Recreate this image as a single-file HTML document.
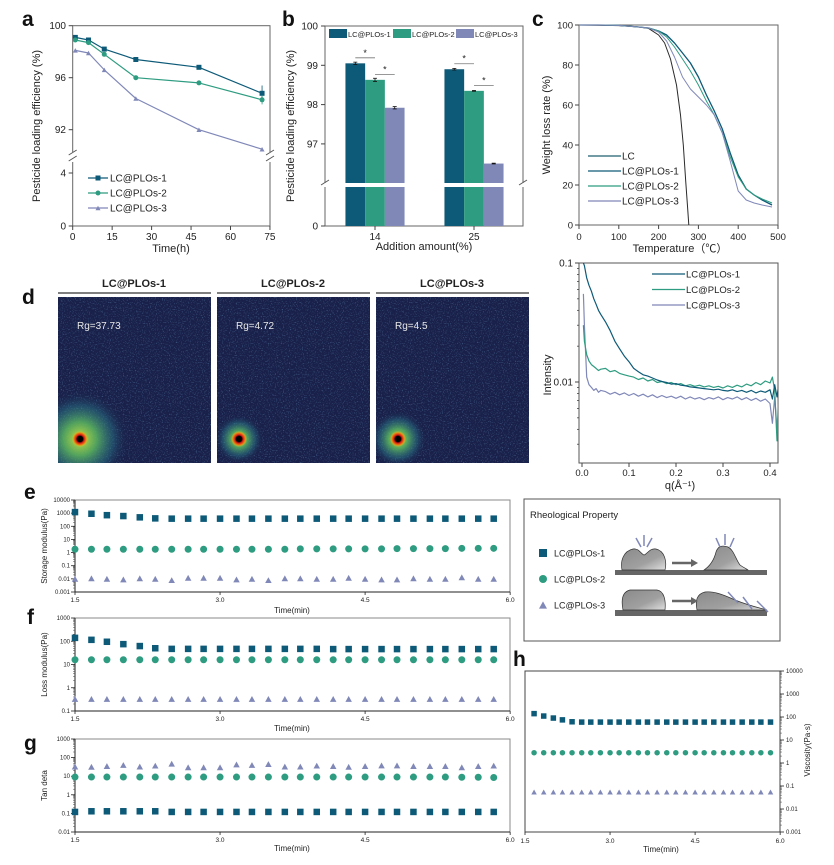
<!DOCTYPE html>
<html><head><meta charset="utf-8">
<style>
html,body{margin:0;padding:0;background:#fff;}
svg{display:block;font-family:"Liberation Sans",sans-serif;}
</style></head>
<body>
<svg id="fig" width="834" height="865" viewBox="0 0 834 865" xmlns="http://www.w3.org/2000/svg">
<defs>
<filter id="speck" x="0" y="0" width="100%" height="100%">
<feTurbulence type="fractalNoise" baseFrequency="0.85" numOctaves="1" seed="3" result="n"/>
<feColorMatrix in="n" type="matrix" values="0 0 0 0 0.2  0 0 0 0 0.42  0 0 0 0 0.7  0 0 0 2.2 -1.2"/>
</filter>
<radialGradient id="glow1"><stop offset="0" stop-color="#c8e040" stop-opacity="1"/><stop offset="0.35" stop-color="#5cb860" stop-opacity="0.85"/><stop offset="0.7" stop-color="#2a7a8a" stop-opacity="0.45"/><stop offset="1" stop-color="#1b2550" stop-opacity="0"/></radialGradient>
<radialGradient id="spot"><stop offset="0" stop-color="#000"/><stop offset="0.35" stop-color="#000"/><stop offset="0.5" stop-color="#d01818"/><stop offset="0.75" stop-color="#f07a10"/><stop offset="1" stop-color="#e8d020" stop-opacity="0"/></radialGradient>
<linearGradient id="blob" x1="0" y1="0" x2="1" y2="1"><stop offset="0" stop-color="#8a8a8a"/><stop offset="0.6" stop-color="#a0a0a0"/><stop offset="1" stop-color="#e0e0e0"/></linearGradient>
<clipPath id="clipS"><rect x="579" y="263" width="199" height="200"/></clipPath>
</defs>
<g id="root"></g>
</svg>
<script>
// ---------- DATA ----------
const aTime=[1,6,12,24,48,72];
const aLC1=[99.1,98.9,98.2,97.4,96.8,94.8];
const aLC2=[98.9,98.7,97.8,96.0,95.6,94.3];
const aLC3=[98.1,97.9,96.6,94.4,92.0,90.5];
const aErr1=[0.08,0.08,0.08,0.08,0.08,0.6];
const aErr2=[0.08,0.08,0.08,0.08,0.08,0.35];
const aXTicks=[0,15,30,45,60,75];
const aYTicksUp=[92,96,100];
const aYTicksLow=[0,4];

const bGroups=['14','25'];
const bLC1=[99.05,98.9];
const bLC2=[98.63,98.35];
const bLC3=[97.92,96.5];
const bErr1=[0.03,0.02];
const bErr2=[0.04,0.01];
const bErr3=[0.03,0.01];
const bYTicks=[97,98,99,100];

const cTempLC=[0,50,100,150,175,200,215,230,245,255,262,268,273,276];
const cLC=[100,99.9,99.7,99,98.3,95,91,83,70,55,40,22,8,0];
const cTemp=[0,50,100,150,175,200,220,240,260,280,300,320,340,360,380,400,420,440,460,485];
const cLC1=[100,100,99.8,99,98.5,97,95,91,86,81,74,65,57,48,36,25,18,15,12.5,10];
const cLC2=[100,100,99.8,99,98.5,97,94,89,83,77,70,62,55,46,34,24,18,15,13,11];
const cLC3=[100,100,99.8,99,98.5,96.5,92,84,74,68,64,60,55,46,32,17,12.5,11,10,9];
const cXTicks=[0,100,200,300,400,500];
const cYTicks=[0,20,40,60,80,100];

const sQ=[0.003,0.005,0.01,0.015,0.02,0.025,0.03,0.035,0.04,0.05,0.06,0.07,0.08,0.09,0.10,0.11,0.12,0.13,0.14,0.15,0.16,0.17,0.18,0.19,0.20,0.21,0.22,0.23,0.24,0.25,0.26,0.27,0.28,0.29,0.30,0.31,0.32,0.33,0.34,0.35,0.36,0.37,0.38,0.39,0.40,0.405,0.41,0.415,0.42];
const sI1=[0.1,0.095,0.075,0.065,0.058,0.05,0.045,0.04,0.037,0.032,0.027,0.022,0.019,0.0165,0.0148,0.013,0.0122,0.0115,0.0112,0.0108,0.0104,0.0101,0.0099,0.0096,0.0097,0.0094,0.0093,0.0091,0.009,0.0089,0.0088,0.0087,0.0086,0.0087,0.0085,0.0084,0.0086,0.0083,0.0085,0.0082,0.0085,0.0081,0.0084,0.0082,0.0086,0.0072,0.0095,0.0075,0.0105];
const sI2=[0.03,0.022,0.017,0.015,0.014,0.0135,0.013,0.0125,0.0128,0.013,0.0122,0.0125,0.0118,0.0115,0.0112,0.011,0.0105,0.0108,0.0102,0.0105,0.0099,0.0101,0.0097,0.0099,0.0095,0.0097,0.0093,0.0095,0.0092,0.0094,0.0091,0.0093,0.009,0.0092,0.0089,0.0093,0.009,0.0094,0.0091,0.0096,0.0093,0.0099,0.0095,0.0102,0.0098,0.011,0.0085,0.0032,0.013];
const sI3=[0.055,0.03,0.011,0.0095,0.009,0.0085,0.0088,0.0082,0.0085,0.0083,0.0079,0.0082,0.0078,0.0081,0.0077,0.008,0.0076,0.0079,0.0075,0.0078,0.0074,0.0077,0.0074,0.0076,0.0073,0.0076,0.0072,0.0075,0.0072,0.0074,0.0071,0.0074,0.0072,0.0075,0.0071,0.0074,0.0072,0.0075,0.0071,0.0074,0.007,0.0073,0.0069,0.0072,0.0066,0.0045,0.0075,0.004,0.007];
const sXTicks=[0,0.1,0.2,0.3,0.4];

const rTime=[1.5,1.67,1.83,2,2.17,2.33,2.5,2.67,2.83,3,3.17,3.33,3.5,3.67,3.83,4,4.17,4.33,4.5,4.67,4.83,5,5.17,5.33,5.5,5.67,5.83];
const eLC1=[1200,900,700,600,480,400,380,380,380,380,380,380,380,380,380,380,380,380,380,380,380,380,380,380,380,380,380];
const eLC2=[1.8,1.8,1.8,1.8,1.8,1.8,1.8,1.8,1.8,1.8,1.8,1.8,1.8,1.8,1.9,1.9,1.9,1.9,1.9,1.9,2,2,2,2,2.1,2.1,2.1];
const eLC3=[0.01,0.011,0.01,0.009,0.011,0.01,0.008,0.012,0.012,0.012,0.009,0.01,0.008,0.011,0.011,0.01,0.01,0.012,0.01,0.009,0.009,0.011,0.01,0.01,0.013,0.01,0.01];
const fLC1=[140,115,95,75,62,50,47,47,47,47,47,47,47,47,47,47,46,46,46,46,46,46,46,46,46,46,46];
const fLC2=[16,16,16,16,16,16,16,16,16,16,16,16,16,16,16,16,16,16,16,16,16,16,16,16,16,16,16];
const fLC3=[0.33,0.33,0.33,0.33,0.33,0.33,0.33,0.33,0.33,0.33,0.33,0.33,0.33,0.33,0.33,0.33,0.33,0.33,0.33,0.33,0.33,0.33,0.33,0.33,0.33,0.33,0.33];
const gLC1=[0.12,0.13,0.13,0.13,0.13,0.13,0.12,0.12,0.12,0.12,0.12,0.12,0.12,0.12,0.12,0.12,0.12,0.12,0.12,0.12,0.12,0.12,0.12,0.12,0.12,0.12,0.12];
const gLC2=[9,9,9,9,9,9,9,9,9,9,9,9,9,9,9,9,9,9,9,9,9,9,9,9,8.8,8.8,8.5];
const gLC3=[33,32,35,40,33,37,47,30,30,30,43,40,45,33,33,37,35,32,35,38,38,35,35,35,30,35,37];
const hTime=[1.66,1.83,2,2.16,2.33,2.5,2.66,2.83,3,3.16,3.33,3.5,3.66,3.83,4,4.16,4.33,4.5,4.66,4.83,5,5.16,5.33,5.5,5.66,5.83];
const hLC1=[140,110,90,75,62,60,60,60,60,60,60,60,60,60,60,60,60,60,60,60,60,60,60,60,60,60];
const hLC2=[2.8,2.8,2.8,2.8,2.8,2.8,2.8,2.8,2.8,2.8,2.8,2.8,2.8,2.8,2.8,2.8,2.8,2.8,2.8,2.8,2.8,2.8,2.8,2.8,2.8,2.8];
const hLC3=[0.055,0.055,0.055,0.055,0.055,0.055,0.055,0.055,0.055,0.055,0.055,0.055,0.055,0.055,0.055,0.055,0.055,0.055,0.055,0.055,0.055,0.055,0.055,0.055,0.055,0.055];
const tTicks=[1.5,3.0,4.5,6.0];

// ---------- HELPERS ----------
const NS='http://www.w3.org/2000/svg';
const root=document.getElementById('root');
const C1='#0d5a78',C2='#2e9c80',C3='#8088b8';
function mk(tag,attrs,name,parent){
  const e=document.createElementNS(NS,tag);
  for(const k in attrs) e.setAttribute(k,attrs[k]);
  
  
  (parent||root).appendChild(e);
  return e;
}
function ln(x1,y1,x2,y2,s,w,name){return mk('line',{x1,y1,x2,y2,stroke:s,'stroke-width':w},name);}
function tx(x,y,str,fs,anchor,name,extra){
  const a={x,y,'font-size':fs,'text-anchor':anchor||'middle',fill:'#222'};
  if(extra) for(const k in extra) a[k]=extra[k];
  const t=mk('text',a,name); t.textContent=str; return t;
}
function poly(pts,s,w,name,parent){return mk('polyline',{points:pts.map(p=>p[0].toFixed(1)+','+p[1].toFixed(1)).join(' '),fill:'none',stroke:s,'stroke-width':w,'stroke-linejoin':'round'},name,parent);}
function marker(type,x,y,sz,col,name){
  if(type==='s') return mk('rect',{x:x-sz/2,y:y-sz/2,width:sz,height:sz,fill:col},name);
  if(type==='c') return mk('circle',{cx:x,cy:y,r:sz/2,fill:col},name);
  const h=sz*0.9;
  return mk('polygon',{points:`${x-sz/2},${y+h/2} ${x+sz/2},${y+h/2} ${x},${y-h/2}`,fill:col},name);
}
function panelLabel(x,y,s){tx(x,y,s,21,'start','panel-label-'+s,{'font-weight':'bold',fill:'#111'});}

// ---------- PANEL A ----------
panelLabel(22,26,'a');
const xa=t=>72.7+t*2.63;
const ya=v=>v>=88?25.7+(100-v)*13:226-v*13.25;
mk('rect',{x:72.7,y:25.7,width:197.3,height:200.3,fill:'none',stroke:'#666','stroke-width':1},'panel-a-frame');
mk('rect',{x:68,y:152,width:9,height:10,fill:'#fff'},'panel-a-break-gap-left');
mk('rect',{x:266,y:152,width:9,height:10,fill:'#fff'},'panel-a-break-gap-right');
[[72.7,152],[72.7,158],[270,152],[270,158]].forEach(p=>ln(p[0]-4,p[1]+3,p[0]+4,p[1]-2,'#555',1,'axis-break-mark'));
aXTicks.forEach(t=>{ln(xa(t),226,xa(t),230,'#444',1,'x-tick');tx(xa(t),240,String(t),10,'middle','x-tick-label');});
aYTicksUp.forEach(v=>{ln(68.7,ya(v),72.7,ya(v),'#444',1,'y-tick');tx(66,ya(v)+3.5,String(v),10,'end','y-tick-label');});
aYTicksLow.forEach(v=>{ln(68.7,ya(v),72.7,ya(v),'#444',1,'y-tick');tx(66,ya(v)+3.5,String(v),10,'end','y-tick-label');});
tx(171,252,'Time(h)',11,'middle','x-axis-title');
tx(40,126,'Pesticide loading efficiency (%)',11,'middle','y-axis-title',{transform:'rotate(-90 40 126)'});
[[aLC1,aErr1,C1,'s'],[aLC2,aErr2,C2,'c'],[aLC3,null,C3,'t']].forEach((sr,si)=>{
  poly(aTime.map((t,i)=>[xa(t),ya(sr[0][i])]),sr[2],1.2,'series-line-lc-plos-'+(si+1));
  aTime.forEach((t,i)=>{
    if(sr[1]){const e=sr[1][i];ln(xa(t),ya(sr[0][i]+e),xa(t),ya(sr[0][i]-e),sr[2],0.8,'error-bar');}
    marker(sr[3],xa(t),ya(sr[0][i]),5,sr[2],'data-point');
  });
});
['LC@PLOs-1','LC@PLOs-2','LC@PLOs-3'].forEach((s,i)=>{
  const y=178+i*15,c=[C1,C2,C3][i];
  ln(88,y,108,y,c,1.2,'legend-line');
  marker(['s','c','t'][i],98,y,5,c,'legend-marker');
  tx(110,y+3.5,s,10,'start','legend-entry');
});

// ---------- PANEL B ----------
panelLabel(282,26,'b');
const yb=v=>26+(100-v)*39.3;
const xb=(g,k)=>375+g*99+(k-1)*19.7;
mk('rect',{x:325,y:26,width:198,height:200,fill:'none',stroke:'#666','stroke-width':1},'panel-b-frame');
bGroups.forEach((g,gi)=>{
  [[bLC1,bErr1,C1],[bLC2,bErr2,C2],[bLC3,bErr3,C3]].forEach((sr,k)=>{
    const x=xb(gi,k);
    mk('rect',{x:x-9.85,y:yb(sr[0][gi]),width:19.7,height:226-yb(sr[0][gi]),fill:sr[2]},'bar-'+g+'-lc-plos-'+(k+1));
    const e=sr[1][gi];
    ln(x,yb(sr[0][gi]+e),x,yb(sr[0][gi]-e),'#111',0.8,'error-bar');
    ln(x-2,yb(sr[0][gi]+e),x+2,yb(sr[0][gi]+e),'#111',0.8,'error-cap');
    ln(x-2,yb(sr[0][gi]-e),x+2,yb(sr[0][gi]-e),'#111',0.8,'error-cap');
  });
  const s1=Math.max(bLC1[gi],bLC2[gi])+0.14, s2=Math.max(bLC2[gi],bLC3[gi])+0.14;
  ln(xb(gi,0),yb(s1),xb(gi,1),yb(s1),'#777',0.8,'significance-line');
  tx((xb(gi,0)+xb(gi,1))/2,yb(s1)-2,'*',9,'middle','significance-star');
  ln(xb(gi,1),yb(s2),xb(gi,2),yb(s2),'#777',0.8,'significance-line');
  tx((xb(gi,1)+xb(gi,2))/2,yb(s2)-2,'*',9,'middle','significance-star');
  ln(xb(gi,1),226,xb(gi,1),230,'#444',1,'x-tick');
  tx(xb(gi,1),240,g,10,'middle','x-tick-label');
});
mk('rect',{x:320,y:183,width:208,height:4,fill:'#fff'},'panel-b-break-gap');
ln(321,185,329,180,'#555',1,'axis-break-mark');ln(519,185,527,180,'#555',1,'axis-break-mark');
bYTicks.forEach(v=>{ln(321,yb(v),325,yb(v),'#444',1,'y-tick');tx(318,yb(v)+3.5,String(v),10,'end','y-tick-label');});
ln(321,226,325,226,'#444',1,'y-tick');tx(318,229.5,'0',10,'end','y-tick-label');
tx(424,250,'Addition amount(%)',11,'middle','x-axis-title');
tx(294,126,'Pesticide loading efficiency (%)',11,'middle','y-axis-title',{transform:'rotate(-90 294 126)'});
['LC@PLOs-1','LC@PLOs-2','LC@PLOs-3'].forEach((s,i)=>{
  const x=[329,393,456][i];
  mk('rect',{x:x,y:29,width:18,height:9,fill:[C1,C2,C3][i]},'legend-swatch');
  tx(x+19,37,s,7.5,'start','legend-entry');
});

// ---------- PANEL C ----------
panelLabel(532,26,'c');
const xc=t=>579+t*0.398, yc=w=>225-w*2;
mk('rect',{x:579,y:25,width:199,height:200,fill:'none',stroke:'#666','stroke-width':1},'panel-c-frame');
cXTicks.forEach(t=>{ln(xc(t),225,xc(t),229,'#444',1,'x-tick');tx(xc(t),240,String(t),9.5,'middle','x-tick-label');});
cYTicks.forEach(v=>{ln(575,yc(v),579,yc(v),'#444',1,'y-tick');tx(573,yc(v)+3.5,String(v),9.5,'end','y-tick-label');});
tx(680,252,'Temperature（℃）',11,'middle','x-axis-title',{'font-family':'"Liberation Sans","Noto Sans CJK SC",sans-serif'});
tx(550,125,'Weight loss rate (%)',11,'middle','y-axis-title',{transform:'rotate(-90 550 125)'});
poly(cTempLC.map((t,i)=>[xc(t),yc(cLC[i])]),'#2a2a2a',1,'series-line-lc');
poly(cTemp.map((t,i)=>[xc(t),yc(cLC1[i])]),C1,1.3,'series-line-lc-plos-1');
poly(cTemp.map((t,i)=>[xc(t),yc(cLC2[i])]),C2,1,'series-line-lc-plos-2');
poly(cTemp.map((t,i)=>[xc(t),yc(cLC3[i])]),C3,1,'series-line-lc-plos-3');
['LC','LC@PLOs-1','LC@PLOs-2','LC@PLOs-3'].forEach((s,i)=>{
  const y=156+i*15;
  ln(588,y,621,y,['#1f5f6f',C1,C2,C3][i],1.3,'legend-line');
  tx(622,y+3.5,s,10,'start','legend-entry');
});

// ---------- PANEL D IMAGES ----------
panelLabel(22,304,'d');
const dImgs=[{x:58,title:'LC@PLOs-1',rg:'Rg=37.73',glow:48,sx:80},{x:217,title:'LC@PLOs-2',rg:'Rg=4.72',glow:24,sx:239},{x:376,title:'LC@PLOs-3',rg:'Rg=4.5',glow:28,sx:398}];
dImgs.forEach((d,i)=>{
  tx(d.x+76,287,d.title,11,'middle','saxs-image-title',{'font-weight':'bold'});
  ln(d.x,293,d.x+153,293,'#555',1.5,'saxs-title-rule');
  mk('rect',{x:d.x,y:297,width:153,height:166,fill:'#19214a'},'saxs-image-'+(i+1));
  mk('rect',{x:d.x,y:297,width:153,height:166,fill:'#fff',filter:'url(#speck)',opacity:0.7},'saxs-speckle');
  const cp=mk('clipPath',{id:'cl'+i},'saxs-clip');
  mk('rect',{x:d.x,y:297,width:153,height:166},'saxs-clip-rect',cp);
  mk('circle',{cx:d.sx,cy:439,r:d.glow,fill:'url(#glow1)','clip-path':'url(#cl'+i+')'},'saxs-glow');
  mk('circle',{cx:d.sx,cy:439,r:8,fill:'url(#spot)'},'saxs-beam-spot');
  tx(d.x+19,329,d.rg,10,'start','rg-label',{fill:'#e8e8e8'});
});

// ---------- SAXS CURVES ----------
const xs=q=>582+q*470, ys=I=>263+(-1-Math.log10(I))*119;
mk('rect',{x:579,y:263,width:199,height:200,fill:'none',stroke:'#555','stroke-width':1},'saxs-frame');
const gs=mk('g',{'clip-path':'url(#clipS)'},'saxs-curves');
poly(sQ.map((q,i)=>[xs(q),ys(sI3[i])]),C3,1.2,'series-line-lc-plos-3',gs);
poly(sQ.map((q,i)=>[xs(q),ys(sI2[i])]),C2,1.2,'series-line-lc-plos-2',gs);
poly(sQ.map((q,i)=>[xs(q),ys(sI1[i])]),C1,1.2,'series-line-lc-plos-1',gs);
sXTicks.forEach(q=>{ln(xs(q),463,xs(q),467,'#444',1,'x-tick');tx(xs(q),476,q.toFixed(1),9.5,'middle','x-tick-label');});
[0.1,0.01].forEach(v=>{ln(575,ys(v),579,ys(v),'#444',1,'y-tick');tx(573,ys(v)+3.5,String(v),10,'end','y-tick-label');});
[0.09,0.08,0.07,0.06,0.05,0.04,0.03,0.02,0.009,0.008,0.007,0.006,0.005,0.004,0.003].forEach(v=>ln(577,ys(v),579,ys(v),'#444',0.8,'y-minor-tick'));
tx(680,489,'q(Å⁻¹)',11,'middle','x-axis-title');
tx(551,375,'Intensity',11,'middle','y-axis-title',{transform:'rotate(-90 551 375)'});
['LC@PLOs-1','LC@PLOs-2','LC@PLOs-3'].forEach((s,i)=>{
  const y=274+i*15.5;
  ln(652,y,685,y,[C1,C2,C3][i],1.3,'legend-line');
  tx(686,y+3.5,s,9.5,'start','legend-entry');
});

// ---------- PANELS E F G ----------
const xt=t=>75+(t-1.5)*96.7;
function logPanel(top,bot,decTop,decBot,ticksLbl,ytitle,series,pname,titleY){
  const pd=(bot-top)/(decTop-decBot);
  const yf=v=>top+(decTop-Math.log10(v))*pd;
  mk('rect',{x:75,y:top,width:435,height:bot-top,fill:'none',stroke:'#888','stroke-width':1},pname+'-frame');
  ln(75,top,75,bot,'#222',1,pname+'-y-axis');
  ln(75,bot,510,bot,'#222',1,pname+'-x-axis');
  for(let d=decTop;d>=decBot;d--){
    const y=yf(Math.pow(10,d));
    ln(71,y,75,y,'#222',0.8,'y-tick');
    tx(70,y+2,ticksLbl[decTop-d],6,'end','y-tick-label');
    if(d>decBot) for(let m=2;m<10;m++){const yy=yf(m*Math.pow(10,d-1));ln(73,yy,75,yy,'#444',0.5,'y-minor-tick');}
  }
  tTicks.forEach(t=>{ln(xt(t),bot,xt(t),bot+3,'#222',0.8,'x-tick');tx(xt(t),bot+10,t.toFixed(1),6.5,'middle','x-tick-label');});
  tx(292,titleY,'Time(min)',8,'middle','x-axis-title');
  tx(47,(top+bot)/2,ytitle,8,'middle','y-axis-title',{transform:`rotate(-90 47 ${(top+bot)/2})`});
  series.forEach((sr,si)=>{
    rTime.forEach((t,i)=>marker(sr[1],xt(t),yf(sr[0][i]),sr[1]==='c'?7:6.5,sr[2],pname+'-point-lc-plos-'+(si+1)));
  });
}
panelLabel(24,499,'e');
logPanel(500,592,4,-3,['10000','1000','100','10','1','0.1','0.01','0.001'],'Storage modulus(Pa)',[[eLC1,'s',C1],[eLC2,'c',C2],[eLC3,'t',C3]],'storage-modulus',613);
panelLabel(27,624,'f');
logPanel(618,711,3,-1,['1000','100','10','1','0.1'],'Loss modulus(Pa)',[[fLC1,'s',C1],[fLC2,'c',C2],[fLC3,'t',C3]],'loss-modulus',731);
panelLabel(24,750,'g');
logPanel(739,832,3,-2,['1000','100','10','1','0.1','0.01'],'Tan deta',[[gLC1,'s',C1],[gLC2,'c',C2],[gLC3,'t',C3]],'tan-delta',851);

// ---------- PANEL H ----------
tx(513,666,'h',21,'start','panel-label-h',{'font-weight':'bold',fill:'#111'});
const xh=t=>525+(t-1.5)*56.7, yh=v=>671+(4-Math.log10(v))*23;
mk('rect',{x:525,y:671,width:255,height:161,fill:'none',stroke:'#444','stroke-width':1},'viscosity-frame');
for(let d=4;d>=-3;d--){
  const y=yh(Math.pow(10,d));
  ln(780,y,784,y,'#222',0.8,'y-tick');
  tx(786,y+2,['10000','1000','100','10','1','0.1','0.01','0.001'][4-d],6,'start','y-tick-label');
  if(d>-3) for(let m=2;m<10;m++){const yy=yh(m*Math.pow(10,d-1));ln(780,yy,782,yy,'#444',0.5,'y-minor-tick');}
}
tTicks.forEach(t=>{ln(xh(t),832,xh(t),835,'#222',0.8,'x-tick');tx(xh(t),843,t.toFixed(1),6.5,'middle','x-tick-label');});
tx(661,852,'Time(min)',8,'middle','x-axis-title');
tx(810,750,'Viscosity(Pa·s)',8,'middle','y-axis-title',{transform:'rotate(-90 810 750)'});
[[hLC1,'s',C1],[hLC2,'c',C2],[hLC3,'t',C3]].forEach((sr,si)=>{
  hTime.forEach((t,i)=>marker(sr[1],xh(t),yh(sr[0][i]),5.5,sr[2],'viscosity-point-lc-plos-'+(si+1)));
});

// ---------- RHEOLOGY SCHEMATIC ----------
mk('rect',{x:524,y:499,width:256,height:142,fill:'#fff',stroke:'#555','stroke-width':1},'rheology-box');
tx(530,518,'Rheological Property',9.5,'start','rheology-title');
['LC@PLOs-1','LC@PLOs-2','LC@PLOs-3'].forEach((s,i)=>{
  const y=553+i*26;
  marker(['s','c','t'][i],543,y,8,[C1,C2,C3][i],'rheology-legend-marker');
  tx(554,y+3.5,s,9,'start','rheology-legend-entry');
});
mk('rect',{x:615,y:570,width:152,height:5,fill:'#666'},'substrate-1');
mk('rect',{x:615,y:610,width:152,height:6,fill:'#666'},'substrate-2');
mk('path',{d:'M622,570 C620,560 624,551 633,549 C639,548 641,554 644,555 C647,554 650,548 656,549 C665,551 667,562 665,570 Z',fill:'url(#blob)',stroke:'#333','stroke-width':0.7},'droplet-before-1');
mk('path',{d:'M704,570 C710,566 714,560 716,552 C718,546 722,545 728,547 C734,550 736,560 740,565 C744,568 747,569 748,570 Z',fill:'url(#blob)',stroke:'#333','stroke-width':0.7},'droplet-after-1');
mk('path',{d:'M623,610 C621,600 622,592 630,590 L657,590 C664,591 666,600 665,610 Z',fill:'url(#blob)',stroke:'#333','stroke-width':0.7},'droplet-before-2');
mk('path',{d:'M697,610 C695,600 697,594 705,592 C713,591 722,594 735,600 C750,606 760,608 767,610 Z',fill:'url(#blob)',stroke:'#333','stroke-width':0.7},'droplet-after-2');
[[672,563],[672,601]].forEach(p=>{ln(p[0],p[1],p[0]+20,p[1],'#666',2.5,'process-arrow-shaft');mk('polygon',{points:`${p[0]+19},${p[1]-4} ${p[0]+26},${p[1]} ${p[0]+19},${p[1]+4}`,fill:'#666'},'process-arrow-head');});
[[636,538,641,547],[644,535,644,546],[652,538,647,547]].forEach(a=>{ln(a[0],a[1],a[2],a[3],C3,1.5,'force-arrow');});
[[720,547,716,538],[725,545,725,534],[730,547,734,538]].forEach(a=>{ln(a[0],a[1],a[2],a[3],C3,1.5,'force-arrow');});
[[728,592,738,603],[743,597,752,609],[757,601,768,612]].forEach(a=>{ln(a[0],a[1],a[2],a[3],C3,1.5,'flow-arrow');});
</script>
</body></html>
